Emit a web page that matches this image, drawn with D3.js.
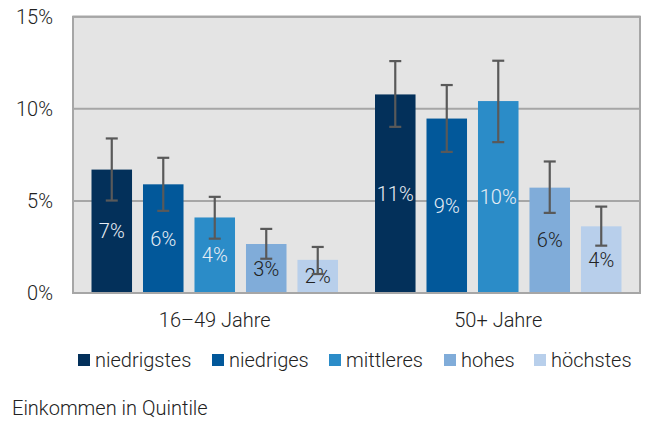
<!DOCTYPE html>
<html>
<head>
<meta charset="utf-8">
<script src="https://cdn.jsdelivr.net/npm/d3@7"></script>
<style>
  body { margin: 0; background: #fff; }
  svg text { font-family: Roboto, sans-serif; font-weight: 300; }
</style>
</head>
<body>
<div id="chart"></div>
<script>
// groups on the x axis, series = income quintiles
var groups = ["16\u201349 Jahre", "50+ Jahre"];
var quintiles = ["niedrigstes", "niedriges", "mittleres", "hohes", "höchstes"];
var colors = ["#03305a", "#02589a", "#2b8cc8", "#80acd9", "#b8cfeb"];
var labelColors = ["#e8eef5", "#e8eef5", "#e8eef5", "#222", "#222"];

// values in %, one array per group, in quintile order
var values16 = [6.7, 5.9, 4.1, 2.66, 1.8];
var values50 = [10.78, 9.47, 10.42, 5.72, 3.62];
var low16 = [5.02, 4.46, 2.95, 1.86, 1.03];
var high16 = [8.39, 7.34, 5.22, 3.48, 2.5];
var low50 = [9.02, 7.66, 8.19, 4.35, 2.57];
var high50 = [12.59, 11.29, 12.61, 7.14, 4.69];
var labels16 = ["7%", "6%", "4%", "3%", "2%"];
var labels50 = ["11%", "9%", "10%", "6%", "4%"];
var yTicks = [0, 5, 10, 15];

var data = [];
function addGroup(g, vals, lows, highs, labs) {
    for (var i = 0; i < quintiles.length; i++) {
        data.push({group: g, q: quintiles[i], qi: i, value: vals[i], low: lows[i], high: highs[i], label: labs[i]});
    }
}
addGroup(groups[0], values16, low16, high16, labels16);
addGroup(groups[1], values50, low50, high50, labels50);

var width = 670, height = 424;
var plotLeft = 73, plotTop = 16.7, plotRight = 640, plotBottom = 293;

var svg = d3.select("#chart").append("svg")
    .attr("width", width)
    .attr("height", height);

var x0 = d3.scaleBand().domain(groups).range([plotLeft, plotRight]).paddingInner(0).paddingOuter(0);
var x1 = d3.scaleBand().domain(quintiles).range([18.5, x0.bandwidth() - 18.5]).paddingInner(0.213).paddingOuter(0);
var y = d3.scaleLinear().domain([0, 15]).range([plotBottom, plotTop]);

// plot background
svg.append("rect")
    .attr("x", plotLeft).attr("y", plotTop)
    .attr("width", plotRight - plotLeft).attr("height", plotBottom - plotTop)
    .attr("fill", "#e4e4e4");

// gridlines
svg.append("g")
    .selectAll("line")
    .data(yTicks)
    .enter()
    .append("line")
    .attr("x1", plotLeft).attr("x2", plotRight)
    .attr("y1", function(d) { return y(d); })
    .attr("y2", function(d) { return y(d); })
    .attr("stroke", "#a6a6a6")
    .attr("stroke-width", 2);

// y axis labels
var yAxis = d3.axisLeft(y).tickValues(yTicks).tickSize(0).tickPadding(20)
    .tickFormat(function(d) { return d + "%"; });
svg.append("g")
    .attr("transform", "translate(" + plotLeft + ",0)")
    .call(yAxis)
    .call(function(g) { g.select(".domain").remove(); })
    .selectAll("text")
    .attr("font-size", 20)
    .attr("fill", "#222")
    .attr("font-family", "Roboto, sans-serif");

// bars
svg.append("g")
    .selectAll("rect")
    .data(data)
    .enter()
    .append("rect")
    .attr("x", function(d) { return x0(d.group) + x1(d.q); })
    .attr("y", function(d) { return y(d.value); })
    .attr("width", x1.bandwidth())
    .attr("height", function(d) { return y(0) - y(d.value); })
    .attr("fill", function(d) { return colors[d.qi]; });

// value labels in the middle of each bar
svg.append("g")
    .selectAll("text")
    .data(data)
    .enter()
    .append("text")
    .attr("x", function(d) { return x0(d.group) + x1(d.q) + x1.bandwidth() / 2; })
    .attr("y", function(d) { return (y(d.value) + y(0)) / 2 + 7; })
    .attr("text-anchor", "middle")
    .attr("font-size", 20)
    .attr("fill", function(d) { return labelColors[d.qi]; })
    .text(function(d) { return d.label; });

// error bars
function cx(d) { return x0(d.group) + x1(d.q) + x1.bandwidth() / 2; }
var err = svg.append("g")
    .selectAll("g")
    .data(data)
    .enter()
    .append("g")
    .attr("stroke", "#595959")
    .attr("stroke-width", 2.2);
err.append("line")
    .attr("x1", cx).attr("x2", cx)
    .attr("y1", function(d) { return y(d.low); })
    .attr("y2", function(d) { return y(d.high); });
err.append("line")
    .attr("x1", function(d) { return cx(d) - 6; })
    .attr("x2", function(d) { return cx(d) + 6; })
    .attr("y1", function(d) { return y(d.low); })
    .attr("y2", function(d) { return y(d.low); });
err.append("line")
    .attr("x1", function(d) { return cx(d) - 6; })
    .attr("x2", function(d) { return cx(d) + 6; })
    .attr("y1", function(d) { return y(d.high); })
    .attr("y2", function(d) { return y(d.high); });

// frame
svg.append("rect")
    .attr("x", plotLeft).attr("y", plotTop)
    .attr("width", plotRight - plotLeft).attr("height", plotBottom - plotTop)
    .attr("fill", "none")
    .attr("stroke", "#a6a6a6")
    .attr("stroke-width", 2);

// x axis labels
var xAxis = d3.axisBottom(x0).tickSize(0).tickPadding(20);
svg.append("g")
    .attr("transform", "translate(0," + plotBottom + ")")
    .call(xAxis)
    .call(function(g) { g.select(".domain").remove(); })
    .selectAll("text")
    .attr("font-size", 20)
    .attr("fill", "#222")
    .attr("font-family", "Roboto, sans-serif");

// legend
var legendX = [78, 212, 329, 444, 534];
var legend = svg.append("g")
    .selectAll("g")
    .data(quintiles)
    .enter()
    .append("g")
    .attr("transform", function(d, i) { return "translate(" + legendX[i] + ",354)"; });
legend.append("rect")
    .attr("width", 12).attr("height", 12)
    .attr("fill", function(d, i) { return colors[i]; });
legend.append("text")
    .attr("x", 17).attr("y", 12.5)
    .attr("font-size", 20)
    .attr("fill", "#222")
    .text(function(d) { return d; });

svg.append("text")
    .attr("x", 12).attr("y", 415)
    .attr("font-size", 20)
    .attr("fill", "#222")
    .text("Einkommen in Quintile");
</script>
</body>
</html>
